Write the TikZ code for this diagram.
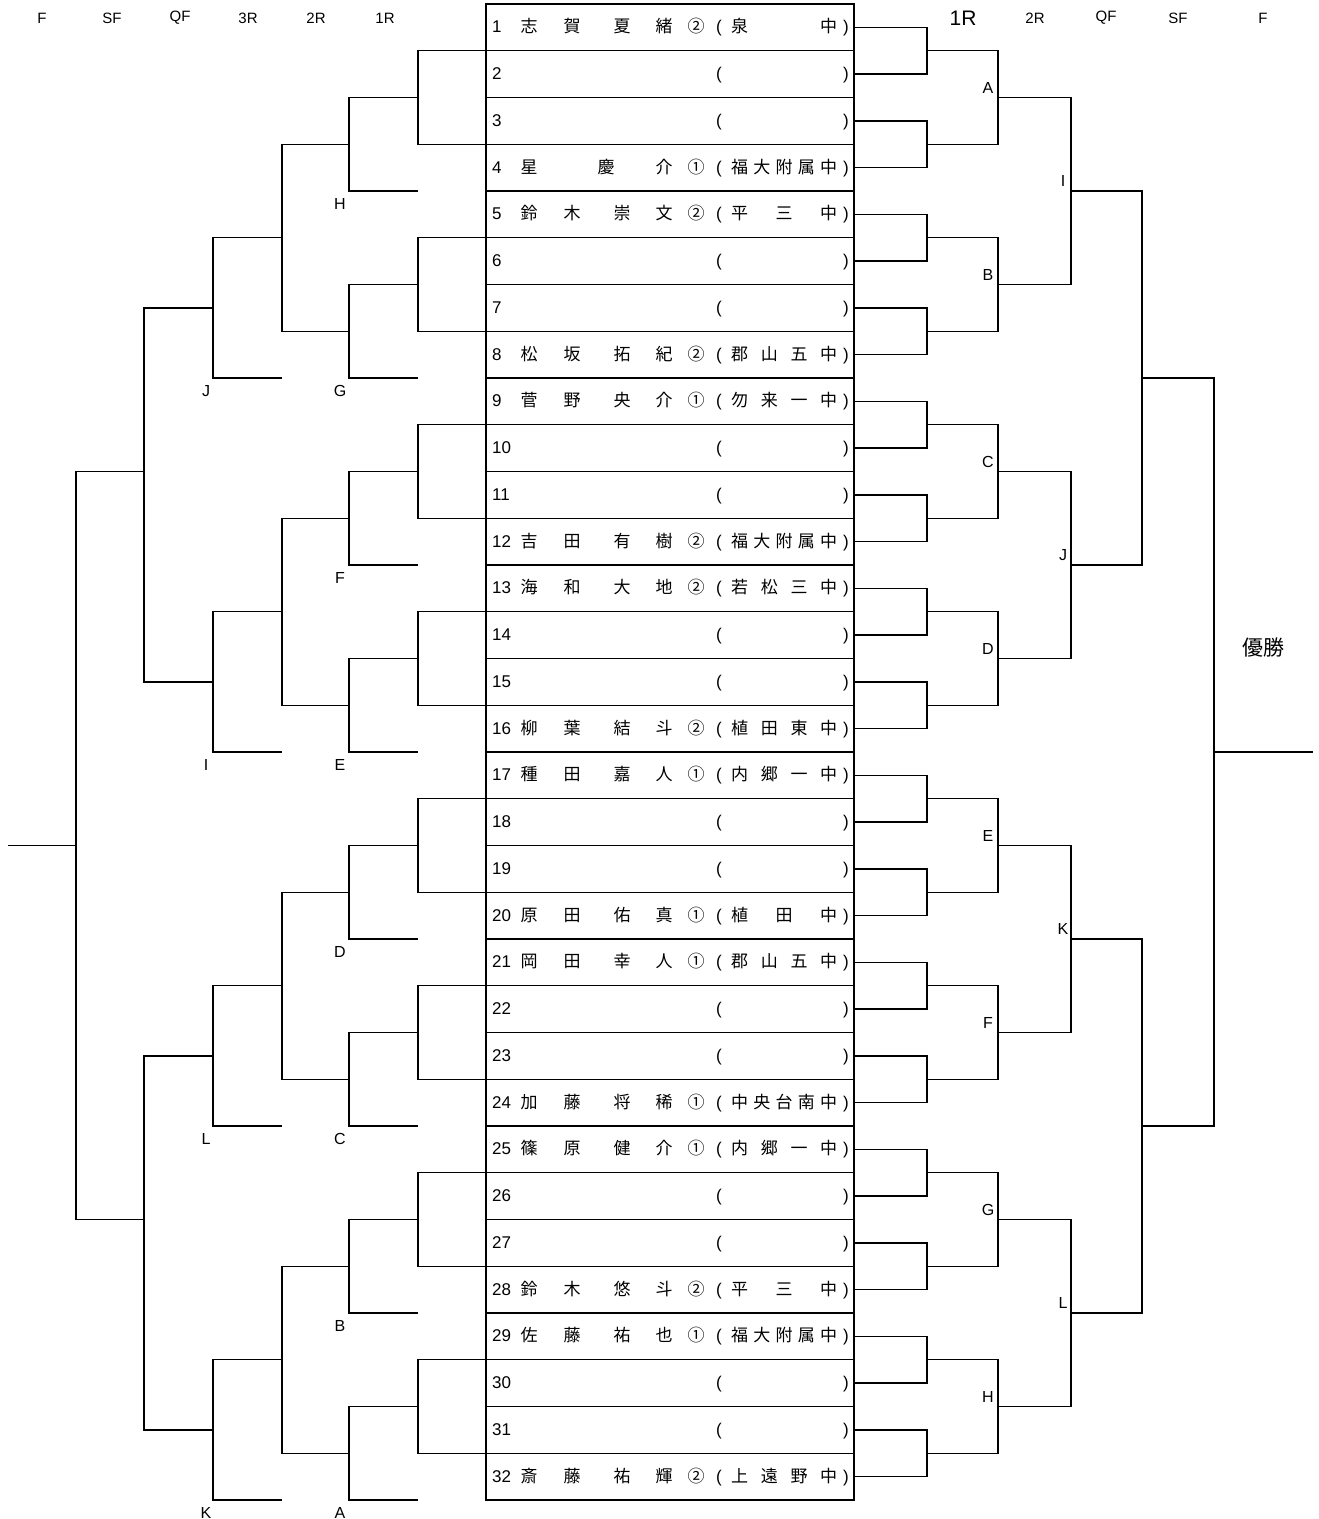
\documentclass[tikz,border=0pt]{standalone}
\usepackage{fontspec}
\setmainfont{Liberation Sans}
\newfontfamily\jp{Noto Sans CJK JP}
\usetikzlibrary{calc}
\hbadness=10000
\newcommand\jpf{\jp\fontsize{17}{19}\selectfont}
% name with four characters (surname + given name)
\newcommand\nm[4]{{\jpf\makebox[16pt]{#1}\hspace{27pt}\makebox[16pt]{#2}\hspace{34pt}\makebox[16pt]{#3}\hspace{26pt}\makebox[16pt]{#4}}}
% name with three characters
\newcommand\nmb[3]{{\jpf\makebox[16pt]{#1}\hspace{61pt}\makebox[16pt]{#2}\hspace{42pt}\makebox[16pt]{#3}}}
\newcommand\rowentry[4]{\makebox[29pt][l]{#1}\makebox[151pt][l]{#2}\hspace{16pt}\makebox[16pt]{\jpf #3}\hspace{12pt}\makebox[6pt][l]{\fontsize{17}{19}\selectfont(}\hspace{9pt}\makebox[106pt][s]{\jpf #4}\hspace{6pt}{\fontsize{17}{19}\selectfont)}}

\begin{document}
\begin{tikzpicture}[x=1pt, y=-1pt,
    wire/.style={line width=1.4pt},
    cell/.style={draw, line width=1.4pt, minimum width=368pt, minimum height=46.75pt, inner sep=0pt, outer sep=0pt},
    rowtxt/.style={anchor=west, inner sep=0pt, text height=13pt, text depth=2pt, font=\fontsize{17}{19}\selectfont},
    lbl/.style={inner sep=0pt, font=\fontsize{16}{18}\selectfont},
    hdr/.style={inner sep=0pt, font=\fontsize{15}{17}\selectfont}]
  \useasboundingbox (0,0) rectangle (1319,1519);

  % ---- round headers
  \foreach \x/\t [count=\n] in {42/F,112/SF,180/QF,248/3R,316/2R,385/1R}
    \node[hdr] (hl\n) at (\x,18) {\t};
  \node[hdr, font=\fontsize{21}{23}\selectfont] (hr1) at (963,18) {1R};
  \foreach \x/\t [count=\n from 2] in {1035/2R,1106/QF,1178/SF,1263/F}
    \node[hdr] (hr\n) at (\x,18) {\t};

  % ---- player table
  \foreach \i/\nme/\gr/\sch in {
      1/{\nm{志}{賀}{夏}{緒}}/②/{泉 中},
      2/{}/{}/{}, 3/{}/{}/{},
      4/{\nmb{星}{慶}{介}}/①/{福 大 附 属 中},
      5/{\nm{鈴}{木}{崇}{文}}/②/{平 三 中},
      6/{}/{}/{}, 7/{}/{}/{},
      8/{\nm{松}{坂}{拓}{紀}}/②/{郡 山 五 中},
      9/{\nm{菅}{野}{央}{介}}/①/{勿 来 一 中},
      10/{}/{}/{}, 11/{}/{}/{},
      12/{\nm{吉}{田}{有}{樹}}/②/{福 大 附 属 中},
      13/{\nm{海}{和}{大}{地}}/②/{若 松 三 中},
      14/{}/{}/{}, 15/{}/{}/{},
      16/{\nm{柳}{葉}{結}{斗}}/②/{植 田 東 中},
      17/{\nm{種}{田}{嘉}{人}}/①/{内 郷 一 中},
      18/{}/{}/{}, 19/{}/{}/{},
      20/{\nm{原}{田}{佑}{真}}/①/{植 田 中},
      21/{\nm{岡}{田}{幸}{人}}/①/{郡 山 五 中},
      22/{}/{}/{}, 23/{}/{}/{},
      24/{\nm{加}{藤}{将}{稀}}/①/{中 央 台 南 中},
      25/{\nm{篠}{原}{健}{介}}/①/{内 郷 一 中},
      26/{}/{}/{}, 27/{}/{}/{},
      28/{\nm{鈴}{木}{悠}{斗}}/②/{平 三 中},
      29/{\nm{佐}{藤}{祐}{也}}/①/{福 大 附 属 中},
      30/{}/{}/{}, 31/{}/{}/{},
      32/{\nm{斎}{藤}{祐}{輝}}/②/{上 遠 野 中}}
  {
    \pgfmathsetmacro\yc{4+(\i-0.5)*46.75}
    \node[cell] (r\i) at (670,\yc) {};
    \node[rowtxt] (t\i) at ([xshift=6pt]r\i.west) {\rowentry{\i}{\nme}{\gr}{\sch}};
  }

  % ---- right bracket
  \foreach \j [evaluate=\j as \a using int(2*\j-1), evaluate=\j as \b using int(2*\j),
               evaluate=\j as \ym using 4+(2*\j-1)*46.75] in {1,...,16} {
    \coordinate (m1-\j) at (927,\ym);
    \draw[wire] (r\a.east) -| (m1-\j) |- (r\b.east);
  }
  \foreach \k/\t [evaluate=\k as \a using int(2*\k-1), evaluate=\k as \b using int(2*\k),
                  evaluate=\k as \ym using 4+(4*\k-2)*46.75] in {1/A,2/B,3/C,4/D,5/E,6/F,7/G,8/H} {
    \coordinate (m2-\k) at (998,\ym);
    \draw[wire] (m1-\a) -| (m2-\k) |- (m1-\b);
    \node[lbl] (ra-\k) at ($(m2-\k)+(-10,-10)$) {\t};
  }
  \foreach \k/\t [evaluate=\k as \a using int(2*\k-1), evaluate=\k as \b using int(2*\k),
                  evaluate=\k as \ym using 4+(8*\k-4)*46.75] in {1/I,2/J,3/K,4/L} {
    \coordinate (m3-\k) at (1071,\ym);
    \draw[wire] (m2-\a) -| (m3-\k) |- (m2-\b);
    \node[lbl] (rb-\k) at ($(m3-\k)+(-8,-10)$) {\t};
  }
  \foreach \k [evaluate=\k as \a using int(2*\k-1), evaluate=\k as \b using int(2*\k),
               evaluate=\k as \ym using 4+(16*\k-8)*46.75] in {1,2} {
    \coordinate (m4-\k) at (1142,\ym);
    \draw[wire] (m3-\a) -| (m4-\k) |- (m3-\b);
  }
  \coordinate (m5) at (1214,752);
  \coordinate (win) at (1313,752);
  \draw[wire] (m4-1) -| (m5) |- (m4-2);
  \draw[wire] (m5) -- (win);
  \node[font=\jp\fontsize{21}{24}\selectfont, inner sep=0pt] (champ) at (1263,648) {優勝};

  % ---- left bracket
  \foreach \k/\t [evaluate=\k as \a using int(4*\k-3), evaluate=\k as \b using int(4*\k-1),
                  evaluate=\k as \ya using 4+(4*\k-2)*46.75, evaluate=\k as \yq using 4+(4*\k-1)*46.75,
                  evaluate=\k as \yf using 4+4*\k*46.75] in {1/H,2/G,3/F,4/E,5/D,6/C,7/B,8/A} {
    \coordinate (l1-\k) at (418,\ya);
    \coordinate (q-\k) at (349,\yq);
    \coordinate (f-\k) at (418,\yf);
    \draw[wire] (r\a.south west) -| (l1-\k) |- (r\b.south west);
    \draw[wire] (l1-\k) -| (q-\k) |- (f-\k);
    \node[lbl] (la-\k) at (340,\yf+13) {\t};
  }
  \foreach \m/\t [evaluate=\m as \a using int(2*\m-1), evaluate=\m as \b using int(2*\m),
                  evaluate=\m as \ys using 4+(8*\m-3)*46.75, evaluate=\m as \yt using 4+(8*\m-1.5)*46.75,
                  evaluate=\m as \yg using 4+8*\m*46.75] in {1/J,2/I,3/L,4/K} {
    \coordinate (s-\m) at (282,\ys);
    \coordinate (t-\m) at (213,\yt);
    \coordinate (g-\m) at (282,\yg);
    \draw[wire] (q-\a) -| (s-\m) |- (q-\b);
    \draw[wire] (s-\m) -| (t-\m) |- (g-\m);
    \node[lbl] (lb-\m) at (206,\yg+13) {\t};
  }
  \coordinate (u-1) at (144,471.5);
  \coordinate (u-2) at (144,1219.5);
  \coordinate (v) at (76,845.5);
  \coordinate (lend) at (8,845.5);
  \draw[wire] (t-1) -| (u-1) |- (t-2);
  \draw[wire] (t-3) -| (u-2) |- (t-4);
  \draw[wire] (u-1) -| (v) |- (u-2);
  \draw[wire] (v) -- (lend);
\end{tikzpicture}
\end{document}
